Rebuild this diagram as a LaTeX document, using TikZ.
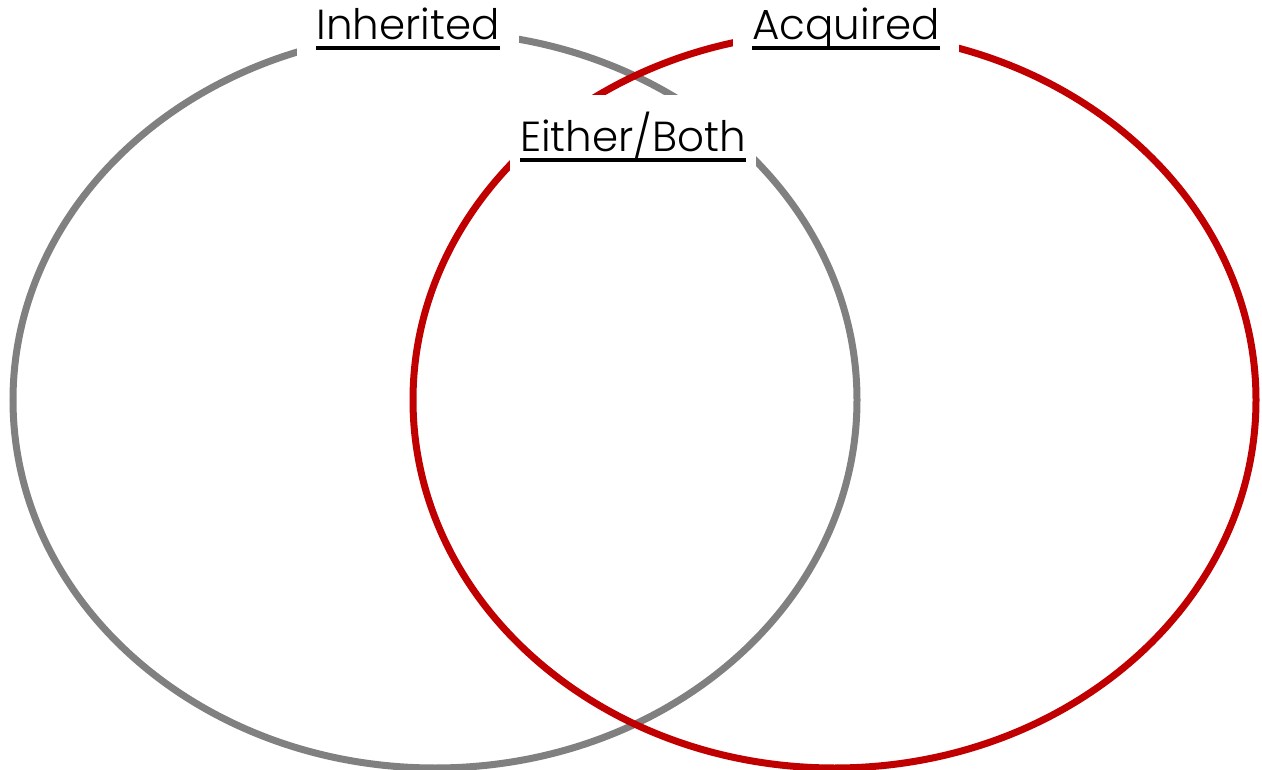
\documentclass[tikz,border=0pt]{standalone}
\usepackage{fontspec}
\setmainfont{Poppins}[UprightFont=* Light]
\usepackage{xcolor}
\usepackage{tikz}
\usetikzlibrary{positioning}

\definecolor{inhgray}{HTML}{808080}
\definecolor{acqred}{HTML}{C00000}

% text with a thick rule under it
\newcommand{\ulword}[1]{\setbox0\hbox{#1}\dp0=0pt\vtop{\copy0\kern6pt\hrule height 4pt width \wd0}}

\begin{document}
\begin{tikzpicture}[
  x=1pt, y=-1pt,
  setline/.style={line width=7pt},
  setlabel/.style={fill=white, inner xsep=19pt, inner ysep=14pt, anchor=base, font=\fontsize{42}{48}\selectfont}
]
\useasboundingbox (0,0) rectangle (1262,770);

\draw[setline, inhgray] (435,400) ellipse [x radius=422, y radius=368];
\draw[setline, acqred] (834.5,400) ellipse [x radius=421.5, y radius=368];

\node[setlabel] (inherited) at (408,40) {\ulword{Inherited}};
\node[setlabel] (acquired) at (846,40) {\ulword{Acquired}};
\node[setlabel, inner xsep=10pt, inner ysep=18pt] (either) at (633,152) {\ulword{Either/Both}};
\end{tikzpicture}
\end{document}
